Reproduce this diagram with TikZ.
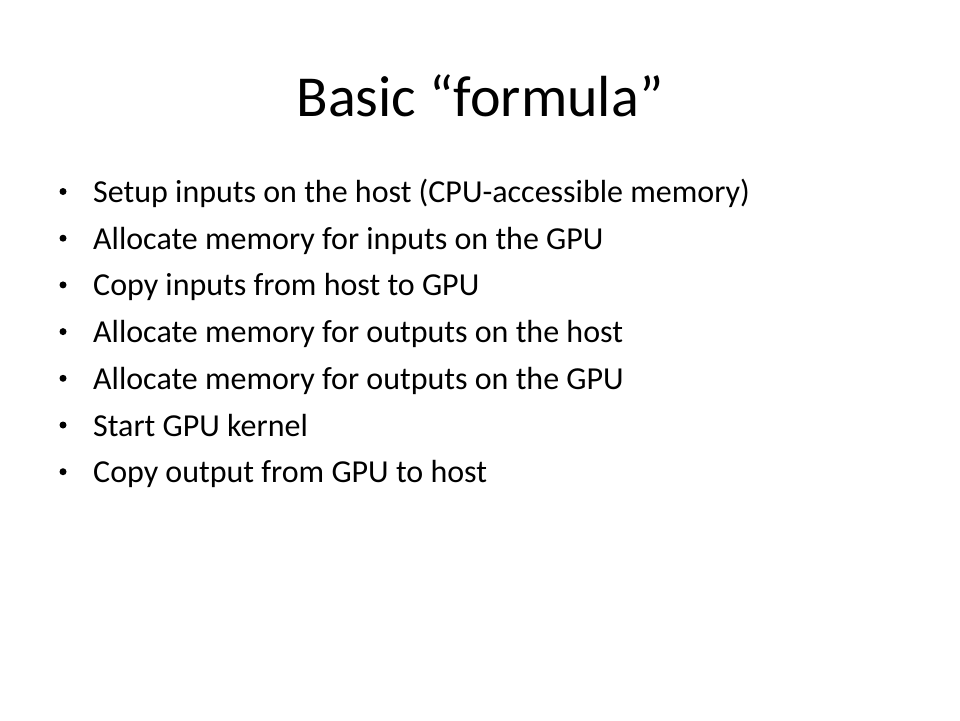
\documentclass[tikz,border=0pt]{standalone}
\usepackage{fontspec}
\setmainfont{Carlito}
\begin{document}
\begin{tikzpicture}[x=1pt,y=-1pt,
  bullettext/.style={anchor=base west,inner sep=0pt,font=\fontsize{32}{38}\selectfont},
  bulletdot/.style={circle,fill=black,inner sep=0pt,minimum size=7pt}]
\useasboundingbox[fill=white] (0,0) rectangle (960,720);
\node[anchor=base,inner sep=0pt,font=\fontsize{58}{70}\selectfont] (title) at (480,116) {Basic “formula”};
\foreach \i/\t in {1/Setup inputs on the host (CPU-accessible memory),
                   2/Allocate memory for inputs on the GPU,
                   3/Copy inputs from host to GPU,
                   4/Allocate memory for outputs on the host,
                   5/Allocate memory for outputs on the GPU,
                   6/Start GPU kernel,
                   7/Copy output from GPU to host}{
  \node[bulletdot] (b\i) at (63,{191.5+46.7*(\i-1)}) {};
  \node[bullettext] (t\i) at (93,{202.5+46.7*(\i-1)}) {\t};
}
\end{tikzpicture}
\end{document}
